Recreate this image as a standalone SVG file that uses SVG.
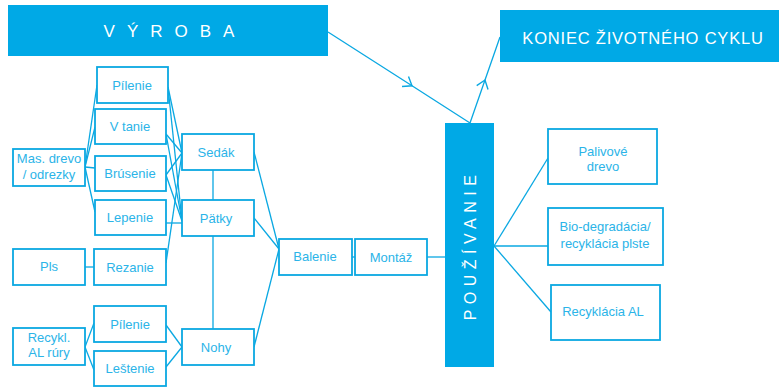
<svg xmlns="http://www.w3.org/2000/svg" width="779" height="387" viewBox="0 0 779 387">
<defs>
<marker id="chev" markerUnits="userSpaceOnUse" markerWidth="20" markerHeight="20" refX="0" refY="0" viewBox="-12 -10 20 20" orient="auto">
<path d="M-8,-6 L0,0 L-8,6" fill="none" stroke="#0AA8E2" stroke-width="1.4"/>
</marker>
</defs>
<style>
.box{fill:#fff;stroke:#0AA8E2;stroke-width:1.8}
.bar{fill:#00A9E6}
.t{font-family:"Liberation Sans",Arial,sans-serif;font-size:13px;fill:#2BB4E8;text-anchor:middle}
.h{font-family:"Liberation Sans",Arial,sans-serif;fill:#fff;text-anchor:middle}
.c line,.c polyline{stroke:#0AA8E2;stroke-width:1.3;fill:none}
</style>
<rect width="779" height="387" fill="#fff"/>
<g class="c" id="connectors">
<polyline points="328,32 412,85.8 470,123" marker-mid="url(#chev)"/>
<polyline points="470,123 485,80 500,37" marker-mid="url(#chev)"/>
<line x1="85" y1="167" x2="97" y2="85"/>
<line x1="85" y1="167" x2="95" y2="127"/>
<line x1="85" y1="167" x2="95" y2="168"/>
<line x1="85" y1="167" x2="95" y2="212"/>
<line x1="168" y1="87" x2="182" y2="153"/>
<line x1="168" y1="87" x2="182" y2="221"/>
<line x1="166" y1="134" x2="182" y2="153"/>
<line x1="166" y1="134" x2="182" y2="221"/>
<line x1="166" y1="175" x2="182" y2="153"/>
<line x1="166" y1="175" x2="182" y2="221"/>
<line x1="166" y1="223" x2="182" y2="223"/>
<line x1="166" y1="263" x2="182" y2="153"/>
<line x1="85" y1="267" x2="94" y2="267"/>
<line x1="85" y1="347" x2="94" y2="323"/>
<line x1="85" y1="347" x2="94" y2="370"/>
<line x1="166" y1="325" x2="182" y2="347"/>
<line x1="166" y1="367" x2="182" y2="347"/>
<line x1="213" y1="170" x2="213" y2="200"/>
<line x1="213" y1="236" x2="213" y2="329"/>
<line x1="254" y1="152" x2="279" y2="249"/>
<line x1="254" y1="218" x2="279" y2="249"/>
<line x1="254" y1="347" x2="279" y2="249"/>
<line x1="352" y1="257" x2="355" y2="257"/>
<line x1="427" y1="257" x2="445" y2="257"/>
<line x1="494" y1="246" x2="548" y2="158"/>
<line x1="494" y1="246" x2="548" y2="246"/>
<line x1="494" y1="246" x2="551" y2="312"/>
</g>
<g id="vyroba"><rect class="bar" x="8" y="5" width="320" height="51"/><text class="h" x="175" y="37" font-size="17" letter-spacing="12">VÝROBA</text></g>
<g id="koniec"><rect class="bar" x="500" y="10" width="279" height="52"/><text class="h" x="643" y="44" font-size="16.5" letter-spacing="0.8">KONIEC ŽIVOTNÉHO CYKLU</text></g>
<g id="pouzivanie"><rect class="bar" x="445" y="123" width="49" height="244"/><text class="h" transform="translate(476,245) rotate(-90)" font-size="16" letter-spacing="5.5">POUŽÍVANIE</text></g>
<g id="masdrevo"><rect class="box" x="13" y="149" width="72" height="37"/><text class="t" x="49" y="163">Mas. drevo</text><text class="t" x="49" y="179">/ odrezky</text></g>
<g id="pilenie1"><rect class="box" x="97" y="67" width="71" height="36"/><text class="t" x="132" y="90">Pílenie</text></g>
<g id="vtanie"><rect class="box" x="95" y="109" width="71" height="35"/><text class="t" x="130" y="131">V tanie</text></g>
<g id="brusenie"><rect class="box" x="95" y="156" width="71" height="35"/><text class="t" x="130" y="178">Brúsenie</text></g>
<g id="lepenie"><rect class="box" x="95" y="200" width="71" height="35"/><text class="t" x="130" y="222">Lepenie</text></g>
<g id="pls"><rect class="box" x="13" y="249" width="72" height="36"/><text class="t" x="49" y="271">Pls</text></g>
<g id="rezanie"><rect class="box" x="94" y="249" width="72" height="36"/><text class="t" x="130" y="272">Rezanie</text></g>
<g id="recykl"><rect class="box" x="13" y="328" width="72" height="37"/><text class="t" x="49" y="342">Recykl.</text><text class="t" x="49" y="357">AL rúry</text></g>
<g id="pilenie2"><rect class="box" x="94" y="306" width="72" height="36"/><text class="t" x="130" y="329">Pílenie</text></g>
<g id="lestenie"><rect class="box" x="94" y="351" width="72" height="35"/><text class="t" x="130" y="373">Leštenie</text></g>
<g id="sedak"><rect class="box" x="182" y="134" width="72" height="36"/><text class="t" x="216" y="157">Sedák</text></g>
<g id="patky"><rect class="box" x="182" y="200" width="72" height="36"/><text class="t" x="216" y="223">Pätky</text></g>
<g id="nohy"><rect class="box" x="182" y="329" width="72" height="36"/><text class="t" x="216" y="352">Nohy</text></g>
<g id="balenie"><rect class="box" x="279" y="239" width="73" height="36"/><text class="t" x="315" y="261">Balenie</text></g>
<g id="montaz"><rect class="box" x="355" y="239" width="72" height="36"/><text class="t" x="391" y="262">Montáž</text></g>
<g id="palivove"><rect class="box" x="548" y="129" width="109" height="55"/><text class="t" x="603" y="156">Palivové</text><text class="t" x="603" y="171">drevo</text></g>
<g id="bio"><rect class="box" x="548" y="208" width="115" height="57"/><text class="t" x="605" y="231">Bio-degradácia/</text><text class="t" x="605" y="248">recyklácia plste</text></g>
<g id="recyklaciaal"><rect class="box" x="551" y="285" width="109" height="55"/><text class="t" x="603" y="316">Recyklácia AL</text></g>
</svg>
